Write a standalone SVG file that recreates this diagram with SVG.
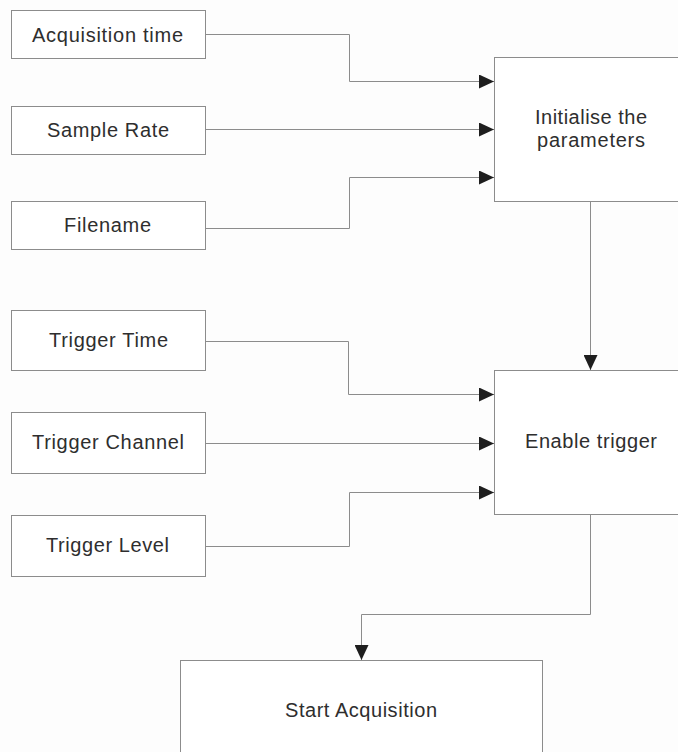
<svg xmlns="http://www.w3.org/2000/svg" width="678" height="752" viewBox="0 0 678 752">
  <style>
    .box { fill: #ffffff; stroke: #8c8c8c; stroke-width: 1; }
    .lbl { font-family: "Liberation Sans", Arial, sans-serif; font-size: 20px; fill: #2e2e2e; }
    .wire { fill: none; stroke: #8c8c8c; stroke-width: 1; }
  </style>
  <defs>
    <marker id="arrow" markerUnits="userSpaceOnUse" markerWidth="16" markerHeight="14" refX="15" refY="7" orient="auto">
      <path d="M0,0 L15,7 L0,14 Z" fill="#1e1e1e"/>
    </marker>
  </defs>
  <rect x="0" y="0" width="678" height="752" fill="#fdfdfd"/>

  <!-- parameter inputs -->
  <g id="acquisition-time">
    <rect class="box" x="11.5" y="10.5" width="194" height="48"/>
    <text class="lbl" x="32" y="42" textLength="151">Acquisition time</text>
  </g>
  <g id="sample-rate">
    <rect class="box" x="11.5" y="106.5" width="194" height="48"/>
    <text class="lbl" x="47" y="137" textLength="122">Sample Rate</text>
  </g>
  <g id="filename">
    <rect class="box" x="11.5" y="201.5" width="194" height="48"/>
    <text class="lbl" x="64" y="232" textLength="87">Filename</text>
  </g>
  <g id="initialise">
    <rect class="box" x="494.5" y="57.5" width="200" height="144"/>
    <text class="lbl" x="535" y="124" textLength="112">Initialise the</text>
    <text class="lbl" x="537" y="147" textLength="108">parameters</text>
  </g>

  <!-- trigger inputs -->
  <g id="trigger-time">
    <rect class="box" x="11.5" y="310.5" width="194" height="60"/>
    <text class="lbl" x="49" y="347" textLength="119">Trigger Time</text>
  </g>
  <g id="trigger-channel">
    <rect class="box" x="11.5" y="412.5" width="194" height="61"/>
    <text class="lbl" x="32" y="449" textLength="152">Trigger Channel</text>
  </g>
  <g id="trigger-level">
    <rect class="box" x="11.5" y="515.5" width="194" height="61"/>
    <text class="lbl" x="46" y="552" textLength="123">Trigger Level</text>
  </g>
  <g id="enable-trigger">
    <rect class="box" x="494.5" y="370.5" width="200" height="144"/>
    <text class="lbl" x="525" y="448" textLength="132">Enable trigger</text>
  </g>

  <g id="start-acquisition">
    <rect class="box" x="180.5" y="660.5" width="362" height="120"/>
    <text class="lbl" x="285" y="717" textLength="152">Start Acquisition</text>
  </g>

  <g id="connectors">
    <path class="wire" d="M205.5,34.5 H349.5 V81.5 H494" marker-end="url(#arrow)"/>
    <path class="wire" d="M205.5,129.5 H494" marker-end="url(#arrow)"/>
    <path class="wire" d="M205.5,228.5 H349.5 V177.5 H494" marker-end="url(#arrow)"/>
    <path class="wire" d="M590.5,202 V370" marker-end="url(#arrow)"/>
    <path class="wire" d="M205.5,341.5 H348.5 V394.5 H494" marker-end="url(#arrow)"/>
    <path class="wire" d="M205.5,443.5 H494" marker-end="url(#arrow)"/>
    <path class="wire" d="M205.5,546.5 H349.5 V492.5 H494" marker-end="url(#arrow)"/>
    <path class="wire" d="M590.5,515 V614.5 H361.5 V660" marker-end="url(#arrow)"/>
  </g>
</svg>
